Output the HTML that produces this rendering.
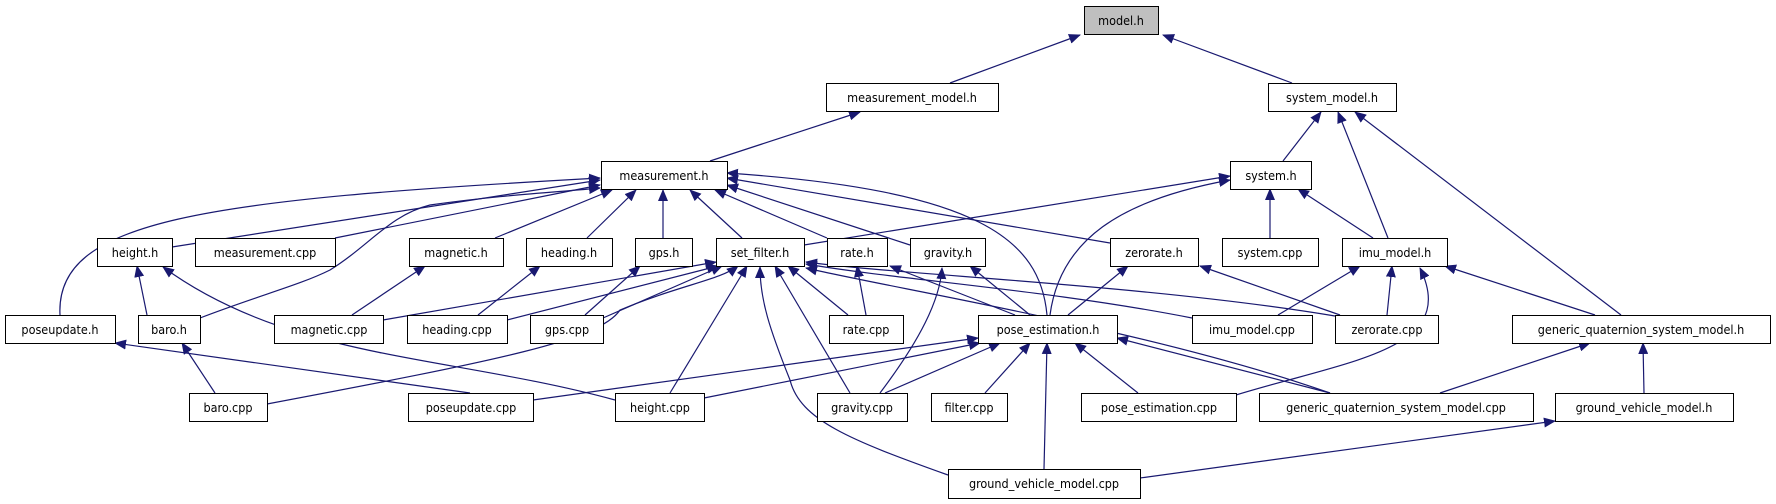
<!DOCTYPE html>
<html><head><meta charset="utf-8"><style>
html,body{margin:0;padding:0;background:#fff;}
svg{display:block;}
text{font-family:"DejaVu Sans Condensed","Liberation Sans",sans-serif;font-size:12.5px;fill:#000;}
</style></head><body>
<svg width="1776" height="504" viewBox="0 0 1776 504" xmlns="http://www.w3.org/2000/svg">
<defs>
<marker id="a" markerWidth="12" markerHeight="10" refX="11" refY="5" orient="auto" markerUnits="userSpaceOnUse">
<path d="M0,0 L12,5 L0,10 Z" fill="#191970"/>
</marker>
</defs>
<g fill="none" stroke="#191970" stroke-width="1.2" marker-end="url(#a)">
<path d="M950,83 L1080,35"/>
<path d="M1292,83 L1163,35"/>
<path d="M710,161 L860,112"/>
<path d="M1283,161 L1321,112"/>
<path d="M1388,238 L1338,112"/>
<path d="M1621,315 L1355,112"/>
<path d="M172,247 L600,180"/>
<path d="M335,238 L600,185"/>
<path d="M60,315 C55,220 200,200 600,178"/>
<path d="M200,318 C260,295 300,285 330,270 C370,245 390,215 430,205 C500,195 560,192 600,188"/>
<path d="M495,238 L612,190"/>
<path d="M587,238 L636,190"/>
<path d="M663,238 L663,190"/>
<path d="M742,238 L690,190"/>
<path d="M827,238 L715,190"/>
<path d="M910,245 L727,185"/>
<path d="M1110,243 L727,178"/>
<path d="M1047,315 C1040,240 980,190 727,173"/>
<path d="M804,245 L1230,176"/>
<path d="M1050,315 C1060,240 1120,200 1230,180"/>
<path d="M1270,238 L1270,189"/>
<path d="M1373,238 L1298,189"/>
<path d="M147,315 L137,266"/>
<path d="M615,400 C450,355 290,360 163,267"/>
<path d="M352,315 L425,266"/>
<path d="M478,315 L540,266"/>
<path d="M585,315 L640,266"/>
<path d="M383,320 L716,262"/>
<path d="M507,320 L718,266"/>
<path d="M603,318 L722,266"/>
<path d="M267,404 C500,360 600,340 620,310 C680,285 720,280 738,266"/>
<path d="M670,393 L747,266"/>
<path d="M850,393 L775,266"/>
<path d="M848,315 L788,266"/>
<path d="M948,475 C850,440 800,420 790,380 C770,330 760,300 760,267"/>
<path d="M1192,318 C1050,290 900,280 806,264"/>
<path d="M1335,316 C1150,285 900,275 806,262"/>
<path d="M1330,393 C1150,330 900,290 806,268"/>
<path d="M866,315 L857,266"/>
<path d="M1015,315 L890,266"/>
<path d="M1030,315 L970,266"/>
<path d="M880,393 C920,340 940,300 942,268"/>
<path d="M1068,315 L1128,266"/>
<path d="M1340,315 L1200,266"/>
<path d="M1278,315 L1360,266"/>
<path d="M1387,315 L1392,266"/>
<path d="M1236,395 C1350,360 1460,350 1420,268"/>
<path d="M1595,315 L1445,266"/>
<path d="M470,393 L115,343"/>
<path d="M215,393 L182,343"/>
<path d="M533,400 L978,338"/>
<path d="M704,398 L980,343"/>
<path d="M885,393 L1000,343"/>
<path d="M985,393 L1030,343"/>
<path d="M1044,469 L1047,343"/>
<path d="M1138,393 L1075,343"/>
<path d="M1330,393 L1117,338"/>
<path d="M1440,393 L1590,343"/>
<path d="M1644,393 L1643,343"/>
<path d="M1140,478 L1555,421"/>
</g>
<g stroke="#000" stroke-width="1" fill="#fff">
<rect x="1084.5" y="6.5" width="74" height="28" fill="#bfbfbf"/>
<rect x="826.5" y="83.5" width="172" height="28"/>
<rect x="1268.5" y="83.5" width="128" height="28"/>
<rect x="601.5" y="161.5" width="126" height="28"/>
<rect x="1230.5" y="161.5" width="81" height="28"/>
<rect x="97.5" y="238.5" width="75" height="28"/>
<rect x="195.5" y="238.5" width="140" height="28"/>
<rect x="409.5" y="238.5" width="94" height="28"/>
<rect x="526.5" y="238.5" width="86" height="28"/>
<rect x="635.5" y="238.5" width="57" height="28"/>
<rect x="716.5" y="238.5" width="88" height="28"/>
<rect x="827.5" y="238.5" width="60" height="28"/>
<rect x="910.5" y="238.5" width="75" height="28"/>
<rect x="1110.5" y="238.5" width="88" height="28"/>
<rect x="1222.5" y="238.5" width="96" height="28"/>
<rect x="1342.5" y="238.5" width="105" height="28"/>
<rect x="5.5" y="315.5" width="110" height="28"/>
<rect x="138.5" y="315.5" width="62" height="28"/>
<rect x="274.5" y="315.5" width="109" height="28"/>
<rect x="407.5" y="315.5" width="100" height="28"/>
<rect x="530.5" y="315.5" width="73" height="28"/>
<rect x="829.5" y="315.5" width="74" height="28"/>
<rect x="978.5" y="315.5" width="139" height="28"/>
<rect x="1192.5" y="315.5" width="120" height="28"/>
<rect x="1335.5" y="315.5" width="103" height="28"/>
<rect x="1512.5" y="315.5" width="258" height="28"/>
<rect x="189.5" y="393.5" width="78" height="28"/>
<rect x="408.5" y="393.5" width="125" height="28"/>
<rect x="615.5" y="393.5" width="89" height="28"/>
<rect x="817.5" y="393.5" width="90" height="28"/>
<rect x="931.5" y="393.5" width="76" height="28"/>
<rect x="1081.5" y="393.5" width="155" height="28"/>
<rect x="1259.5" y="393.5" width="274" height="28"/>
<rect x="1555.5" y="393.5" width="178" height="28"/>
<rect x="948.5" y="469.5" width="192" height="29"/>
</g>
<g text-anchor="middle">
<text x="1121" y="25">model.h</text>
<text x="912" y="102">measurement_model.h</text>
<text x="1332" y="102">system_model.h</text>
<text x="664" y="180">measurement.h</text>
<text x="1271" y="180">system.h</text>
<text x="135" y="257">height.h</text>
<text x="265" y="257">measurement.cpp</text>
<text x="456" y="257">magnetic.h</text>
<text x="569" y="257">heading.h</text>
<text x="664" y="257">gps.h</text>
<text x="760" y="257">set_filter.h</text>
<text x="857" y="257">rate.h</text>
<text x="948" y="257">gravity.h</text>
<text x="1154" y="257">zerorate.h</text>
<text x="1270" y="257">system.cpp</text>
<text x="1395" y="257">imu_model.h</text>
<text x="60" y="334">poseupdate.h</text>
<text x="169" y="334">baro.h</text>
<text x="329" y="334">magnetic.cpp</text>
<text x="457" y="334">heading.cpp</text>
<text x="567" y="334">gps.cpp</text>
<text x="866" y="334">rate.cpp</text>
<text x="1048" y="334">pose_estimation.h</text>
<text x="1252" y="334">imu_model.cpp</text>
<text x="1387" y="334">zerorate.cpp</text>
<text x="1641" y="334">generic_quaternion_system_model.h</text>
<text x="228" y="412">baro.cpp</text>
<text x="471" y="412">poseupdate.cpp</text>
<text x="660" y="412">height.cpp</text>
<text x="862" y="412">gravity.cpp</text>
<text x="969" y="412">filter.cpp</text>
<text x="1159" y="412">pose_estimation.cpp</text>
<text x="1396" y="412">generic_quaternion_system_model.cpp</text>
<text x="1644" y="412">ground_vehicle_model.h</text>
<text x="1044" y="488">ground_vehicle_model.cpp</text>
</g>
</svg>
</body></html>
